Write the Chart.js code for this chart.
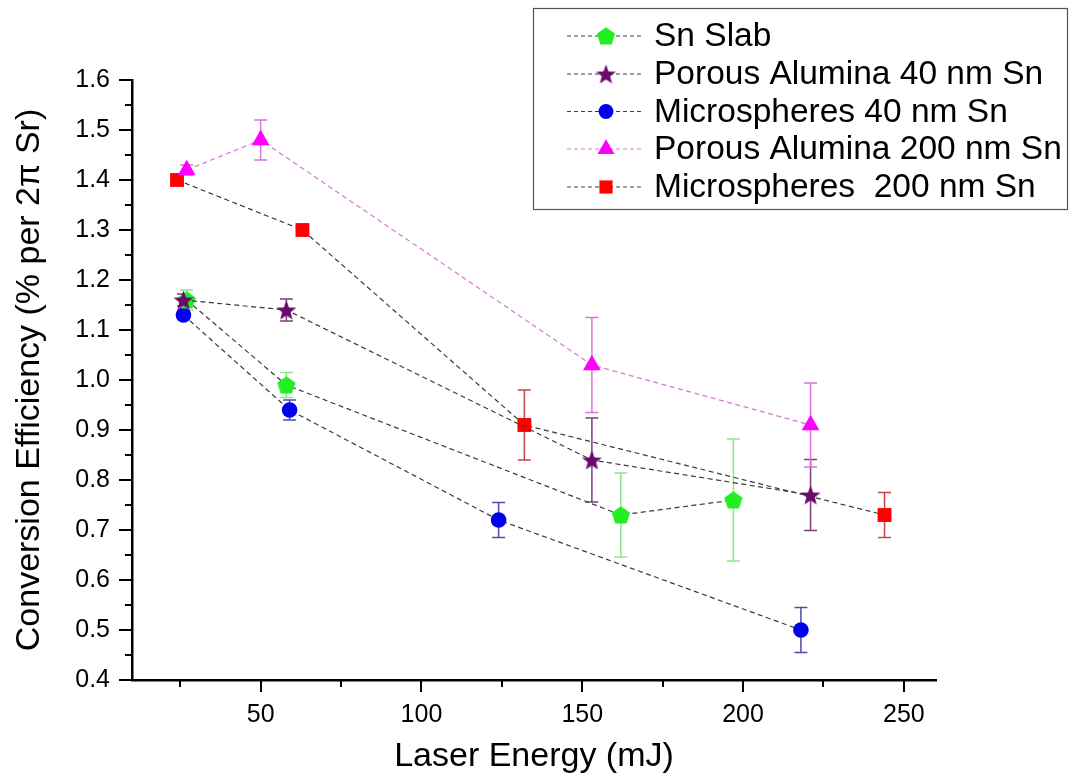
<!DOCTYPE html>
<html><head><meta charset="utf-8">
<script src="https://cdn.jsdelivr.net/npm/chart.js@4/dist/chart.umd.min.js"></script>
<style>html,body{margin:0;padding:0;background:#fff;}#wrap{width:1069px;height:779px;}</style>
</head><body><div id="wrap"><canvas id="c" width="1069" height="779"></canvas></div>
<script>
// ---- data ----
const seriesNames = ['Sn Slab', 'Porous Alumina 40 nm Sn', 'Microspheres 40 nm Sn', 'Porous Alumina 200 nm Sn', 'Microspheres  200 nm Sn'];

const snSlabX = [27, 58, 162, 197];
const snSlabY = [1.16, 0.99, 0.73, 0.76];
const snSlabErr = [0.02, 0.025, 0.084, 0.122];

const pa40X = [26, 58, 153, 221];
const pa40Y = [1.16, 1.14, 0.84, 0.77];
const pa40Err = [0.012, 0.022, 0.084, 0.071];

const ms40X = [26, 59, 124, 218];
const ms40Y = [1.13, 0.94, 0.72, 0.50];
const ms40Err = [0.008, 0.02, 0.035, 0.045];

const pa200X = [27, 50, 153, 221];
const pa200Y = [1.42, 1.48, 1.03, 0.91];
const pa200Err = [0.01, 0.04, 0.095, 0.084];

const ms200X = [24, 63, 132, 244];
const ms200Y = [1.40, 1.30, 0.91, 0.73];
const ms200Err = [0.005, 0.01, 0.07, 0.045];

const xTicks = [50, 100, 150, 200, 250];
const xMinorTicks = [25, 75, 125, 175, 225];
const yTicks = [0.4, 0.5, 0.6, 0.7, 0.8, 0.9, 1.0, 1.1, 1.2, 1.3, 1.4, 1.5, 1.6];
const yMinorTicks = [0.45, 0.55, 0.65, 0.75, 0.85, 0.95, 1.05, 1.15, 1.25, 1.35, 1.45, 1.55];

const xTitle = 'Laser Energy (mJ)';
const yTitle = 'Conversion Efficiency (% per 2\u03C0 Sr)';

// ---- markers ----
const FONT = "'Liberation Sans', Arial, sans-serif";
function polyMarker(color, n, outer, inner) {
  const s = Math.ceil(outer * 2 + 2);
  const c = document.createElement('canvas');
  c.width = s; c.height = s;
  const g = c.getContext('2d');
  g.fillStyle = color;
  g.beginPath();
  const pts = inner ? n * 2 : n;
  for (let i = 0; i < pts; i++) {
    const r = inner ? (i % 2 === 0 ? outer : inner) : outer;
    const a = -Math.PI / 2 + i * 2 * Math.PI / pts;
    const px = s / 2 + r * Math.cos(a), py = s / 2 + r * Math.sin(a) + (inner ? 1 : 0.8);
    if (i === 0) g.moveTo(px, py); else g.lineTo(px, py);
  }
  g.closePath(); g.fill();
  return c;
}
const pentagonImg = polyMarker('#22ee22', 5, 9.6, 0);
const starImg = polyMarker('#6a0a6a', 5, 10.5, 4.4);

const series = [
  {name: seriesNames[0], x: snSlabX, y: snSlabY, err: snSlabErr, fill: '#22ee22', errColor: '#8ae68a', line: '#3a3a3a', style: pentagonImg, r: 9, order: 3},
  {name: seriesNames[1], x: pa40X, y: pa40Y, err: pa40Err, fill: '#6a0a6a', errColor: '#7e3e7e', line: '#3a3a3a', style: starImg, r: 10, order: 0},
  {name: seriesNames[2], x: ms40X, y: ms40Y, err: ms40Err, fill: '#0000ee', errColor: '#4c4caa', line: '#3a3a3a', style: 'circle', r: 7.8, order: 4},
  {name: seriesNames[3], x: pa200X, y: pa200Y, err: pa200Err, fill: '#ff00ff', errColor: '#dc72dc', line: '#d67ad6', style: 'triangle', r: 10.3, order: 1},
  {name: seriesNames[4], x: ms200X, y: ms200Y, err: ms200Err, fill: '#ff0000', errColor: '#c24848', line: '#3a3a3a', style: 'rect', r: 9.8, order: 2}
];

const errorBars = {
  id: 'errorBars',
  beforeDatasetsDraw(chart) {
    const {ctx, scales: {x, y}} = chart;
    series.forEach(s => {
      ctx.save();
      ctx.strokeStyle = s.errColor;
      ctx.lineWidth = 1.5;
      s.x.forEach((xv, j) => {
        const px = x.getPixelForValue(xv);
        const t = y.getPixelForValue(s.y[j] + s.err[j]);
        const b = y.getPixelForValue(s.y[j] - s.err[j]);
        ctx.beginPath();
        ctx.moveTo(px, t); ctx.lineTo(px, b);
        ctx.moveTo(px - 6.5, t); ctx.lineTo(px + 6.5, t);
        ctx.moveTo(px - 6.5, b); ctx.lineTo(px + 6.5, b);
        ctx.stroke();
      });
      ctx.restore();
    });
  }
};

const tickMarks = {
  id: 'tickMarks',
  afterDraw(chart) {
    const {ctx, chartArea: a, scales: {x, y}} = chart;
    ctx.save();
    ctx.strokeStyle = '#000';
    ctx.lineWidth = 2;
    ctx.beginPath();
    xTicks.forEach(v => { const p = Math.round(x.getPixelForValue(v)); ctx.moveTo(p, a.bottom); ctx.lineTo(p, a.bottom + 12); });
    xMinorTicks.forEach(v => { const p = Math.round(x.getPixelForValue(v)); ctx.moveTo(p, a.bottom); ctx.lineTo(p, a.bottom + 7); });
    yTicks.forEach(v => { const p = Math.round(y.getPixelForValue(v)); ctx.moveTo(a.left, p); ctx.lineTo(a.left - 13, p); });
    yMinorTicks.forEach(v => { const p = Math.round(y.getPixelForValue(v)); ctx.moveTo(a.left, p); ctx.lineTo(a.left - 7, p); });
    ctx.stroke();
    ctx.restore();
  }
};

const boxLegend = {
  id: 'boxLegend',
  afterDraw(chart) {
    const ctx = chart.ctx;
    ctx.save();
    ctx.fillStyle = '#fff';
    ctx.fillRect(533, 8, 534, 201);
    ctx.strokeStyle = '#555';
    ctx.lineWidth = 1.2;
    ctx.strokeRect(533.5, 8.5, 534, 201);
    const rows = [36, 74, 111.5, 149, 187];
    series.forEach((s, i) => {
      const yy = rows[i];
      ctx.strokeStyle = s.line;
      ctx.lineWidth = 1.1;
      ctx.setLineDash([4, 3]);
      ctx.beginPath(); ctx.moveTo(567, yy); ctx.lineTo(643, yy); ctx.stroke();
      ctx.setLineDash([]);
      ctx.fillStyle = s.fill;
      Chart.helpers.drawPoint(ctx, {pointStyle: s.style, radius: s.r * 0.95, rotation: 0, borderWidth: 0}, 606, yy);
      ctx.fillStyle = '#000';
      ctx.font = '33.5px ' + FONT;
      ctx.textBaseline = 'middle';
      ctx.textAlign = 'left';
      ctx.fillText(s.name, 654, yy + 1);
    });
    ctx.restore();
  }
};

new Chart(document.getElementById('c').getContext('2d'), {
  type: 'scatter',
  data: {
    datasets: series.map(s => ({
      label: s.name,
      data: s.x.map((xv, j) => ({x: xv, y: s.y[j]})),
      showLine: true,
      fill: false,
      tension: 0,
      borderColor: s.line,
      borderWidth: 1.2,
      borderDash: [5, 3.5],
      pointStyle: s.style,
      pointRadius: s.r,
      pointBackgroundColor: s.fill,
      pointBorderColor: s.fill,
      pointBorderWidth: 0,
      backgroundColor: s.fill,
      order: s.order
    }))
  },
  options: {
    responsive: false,
    animation: false,
    devicePixelRatio: 1,
    layout: {padding: {top: 80, right: 133, left: 0, bottom: 0}},
    plugins: {legend: {display: false}, tooltip: {enabled: false}},
    scales: {
      x: {
        type: 'linear', min: 10, max: 260,
        afterFit(s) { s.height = 99; },
        afterBuildTicks(s) { s.ticks = xTicks.map(v => ({value: v})); },
        grid: {display: false, drawTicks: false},
        border: {display: true, color: '#000', width: 2.5},
        ticks: {padding: 20, color: '#000', font: {family: FONT, size: 25}, maxRotation: 0},
        title: {display: true, text: xTitle, color: '#000', font: {family: FONT, size: 34}, padding: {top: 0, bottom: 2}}
      },
      y: {
        type: 'linear', min: 0.4, max: 1.6,
        afterFit(s) { s.width = 132; },
        afterBuildTicks(s) { s.ticks = yTicks.map(v => ({value: v})); },
        grid: {display: false, drawTicks: false},
        border: {display: true, color: '#000', width: 2.5},
        ticks: {padding: 22, color: '#000', font: {family: FONT, size: 25}, callback: v => Number(v).toFixed(1)},
        title: {display: true, text: yTitle, color: '#000', font: {family: FONT, size: 34}, padding: {top: 9, bottom: 0}}
      }
    }
  },
  plugins: [errorBars, tickMarks, boxLegend]
});
</script>
</body></html>
